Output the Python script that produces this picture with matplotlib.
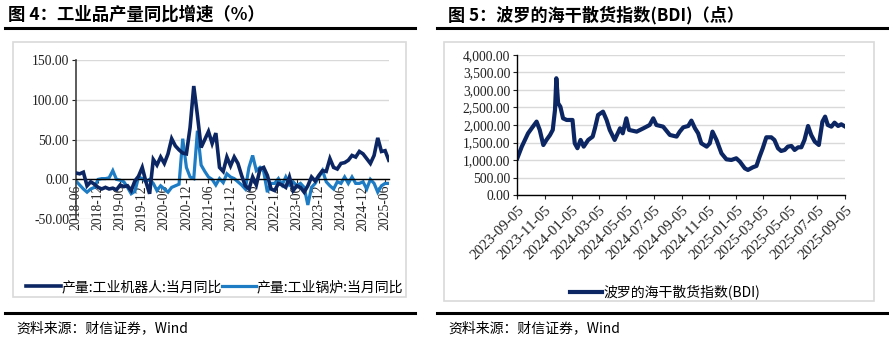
import matplotlib
matplotlib.use("Agg")
import matplotlib.pyplot as plt
from matplotlib.lines import Line2D
from matplotlib.patches import Rectangle
import numpy as np
import datetime as dt

plt.rcParams['font.family'] = ['Noto Sans CJK SC', 'DejaVu Sans']

# ---------------- data: left chart (monthly, 2018-06 .. 2025-07) ----------------
left_start_year, left_start_month = 2018, 6
robot_yoy = [8, 7, 9, -8, -3, -6, -10, -12, -10, -12, -11, -13,
             -7, -9, -8, -14, -2, 4, 15, -3, -18, 25, 18, 28,
             20, 32, 51, 42, 37, 33, 32, 65, 117, 80, 40, 50,
             60, 45, 58, 15, 10, 28, 17, 28, 20, 5, -8, -12,
             3, -7, 13, 15, 5, -12, -14, -5, -7, -10, 3, -14,
             -8, -10, -16, -8, 3, -2, 5, 11, 10, 26, 15, 13,
             20, 21, 24, 30, 28, 35, 32, 26, 20, 30, 52, 35,
             36, 24]
boiler_yoy = [-2, -7, -12, -16, -12, -10, 0, 1, 1, 2, 11, 0,
              -1, -3, -10, -18, -15, 3, 1, -3, 0, -5, -14, -8,
              -12, -16, -10, -8, -6, 51, 15, 3, 1, 61, 18, 10,
              3, 0, -7, 1, -4, 7, 3, 1, -3, -7, -12, 15,
              30, 11, 15, 10, -16, -5, -5, 1, -7, 3, -7, -3,
              -8, -5, -10, -32, -10, -5, 3, 11, -3, -8, -12, -3,
              -5, 3, -5, 3, -5, -5, -3, -12, 0, -5, -16, -8,
              -5, -5]
left_yticks = [-50, 0, 50, 100, 150]
series_names = ['产量:工业机器人:当月同比', '产量:工业锅炉:当月同比']

# ---------------- data: right chart (BDI) ----------------
bdi_dates = ['2023-09-05', '2023-09-15', '2023-09-22', '2023-09-29', '2023-10-07',
             '2023-10-18', '2023-10-25', '2023-11-02', '2023-11-09', '2023-11-17',
             '2023-11-23', '2023-11-28', '2023-12-01', '2023-12-05', '2023-12-10',
             '2023-12-16', '2023-12-24', '2024-01-06', '2024-01-11', '2024-01-17',
             '2024-01-24', '2024-01-31', '2024-02-10', '2024-02-20', '2024-02-25',
             '2024-03-03', '2024-03-14', '2024-03-22', '2024-03-29', '2024-04-09',
             '2024-04-21', '2024-04-27', '2024-05-05', '2024-05-11', '2024-05-28',
             '2024-06-12', '2024-06-26', '2024-07-04', '2024-07-11', '2024-07-26',
             '2024-08-10', '2024-08-25', '2024-09-01', '2024-09-09', '2024-09-20',
             '2024-09-27', '2024-10-05', '2024-10-12', '2024-10-19', '2024-10-31',
             '2024-11-07', '2024-11-13', '2024-11-22', '2024-12-03', '2024-12-14',
             '2024-12-25', '2025-01-05', '2025-01-13', '2025-01-24', '2025-01-31',
             '2025-02-11', '2025-02-19', '2025-02-26', '2025-03-05', '2025-03-13',
             '2025-03-24', '2025-03-31', '2025-04-08', '2025-04-15', '2025-04-23',
             '2025-04-30', '2025-05-08', '2025-05-15', '2025-05-23', '2025-05-30',
             '2025-06-06', '2025-06-14', '2025-06-21', '2025-06-29', '2025-07-08',
             '2025-07-16', '2025-07-22', '2025-07-28', '2025-08-05', '2025-08-12',
             '2025-08-20', '2025-08-27', '2025-09-05']
bdi_values = [1053, 1385, 1574, 1764, 1906,
              2096, 1860, 1430, 1575, 1717,
              1860, 2428, 3330, 2617, 2520,
              2190, 2143, 2143, 1480, 1340,
              1575, 1385, 1575, 1670, 1906,
              2285, 2380, 2143, 1860, 1575,
              1906, 1764, 2190, 1860, 1811,
              1906, 2000, 2190, 2000, 1953,
              1717, 1670, 1811, 1935, 1972,
              2124, 1906, 1764, 1480, 1385,
              1480, 1811, 1574, 1195, 1024,
              1005, 1053, 958, 768, 721,
              797, 835, 1100, 1337, 1650,
              1650, 1574, 1337, 1261, 1290,
              1385, 1403, 1290, 1366, 1366,
              1574, 1972, 1717, 1527, 1432,
              2096, 2238, 2000, 1953, 2067,
              1972, 2020, 1953]
bdi_tick_dates = ['2023-09-05', '2023-11-05', '2024-01-05', '2024-03-05', '2024-05-05',
                  '2024-07-05', '2024-09-05', '2024-11-05', '2025-01-05', '2025-03-05',
                  '2025-05-05', '2025-07-05', '2025-09-05']
right_yticks = [0, 500, 1000, 1500, 2000, 2500, 3000, 3500, 4000]
bdi_name = '波罗的海干散货指数(BDI)'

# ---------------- styles ----------------
W, H = 889, 343
DARK = '#0b2662'
LIGHT = '#1d7cc4'
GRID = '#d9d9d9'
SERIF = ['Liberation Serif', 'DejaVu Serif']

fig = plt.figure(figsize=(W / 100, H / 100), dpi=100)


def px_axes(x0, y0, x1, y1):
    return fig.add_axes([x0 / W, 1 - y1 / H, (x1 - x0) / W, (y1 - y0) / H])


def hline(x0, x1, y, lw=2.2, color='black'):
    fig.add_artist(Line2D([x0 / W, x1 / W], [1 - y / H, 1 - y / H],
                          transform=fig.transFigure, color=color, lw=lw))


def box(x0, y0, x1, y1):
    fig.add_artist(Rectangle((x0 / W, 1 - y1 / H), (x1 - x0) / W, (y1 - y0) / H,
                             transform=fig.transFigure, fill=False,
                             edgecolor=GRID, lw=1.2))


# titles, rules, source
fig.text(8 / W, 1 - 15 / H, '图 4：工业品产量同比增速（%）', fontsize=12.5,
         fontweight='bold', va='center', ha='left')
fig.text(448 / W, 1 - 15 / H, '图 5：波罗的海干散货指数(BDI)（点）', fontsize=12.3,
         fontweight='bold', va='center', ha='left')
hline(5, 415, 27.5)
hline(437, 889, 27.5)
hline(5, 415, 313)
hline(437, 889, 313)
fig.text(16 / W, 1 - 328 / H, '资料来源：财信证券，Wind', fontsize=10,
         style='italic', va='center', ha='left')
fig.text(448 / W, 1 - 328 / H, '资料来源：财信证券，Wind', fontsize=10,
         style='italic', va='center', ha='left')
box(13, 42, 406, 297)
box(444, 42, 874, 301)

# ---------------- left chart ----------------
ax1 = px_axes(76, 59.7, 388.8, 219.3)
n = len(robot_yoy)
xi = np.arange(n)
ax1.spines['bottom'].set_position(('data', 0))
ax1.plot(xi, robot_yoy, color=DARK, lw=2.6, solid_joinstyle='miter', label=series_names[0], zorder=3)
ax1.plot(xi, boiler_yoy, color=LIGHT, lw=2.3, solid_joinstyle='miter', label=series_names[1], zorder=2)
ax1.set_xlim(0, n - 1)
ax1.set_ylim(-50, 150)
ax1.set_yticks(left_yticks)
ax1.set_yticklabels([f'{v:.2f}' for v in left_yticks], fontfamily=SERIF, fontsize=9.8)
tick_idx = list(range(0, n, 6))
labels = []
for i in tick_idx:
    m = left_start_month - 1 + i
    labels.append(f'{left_start_year + m // 12}-{m % 12 + 1:02d}')
ax1.set_xticks(tick_idx)
ax1.set_xticklabels(labels, rotation=90, fontfamily=SERIF, fontsize=9.8, va='top', ha='center')
ax1.spines['bottom'].set_color('black')
ax1.spines['bottom'].set_linewidth(1.0)
for s in ['top', 'right']:
    ax1.spines[s].set_visible(False)
ax1.spines['left'].set_color('#404040')
ax1.spines['left'].set_linewidth(1.2)
ax1.tick_params(axis='y', length=3, width=0.8, pad=2, colors='#222222')
ax1.tick_params(axis='x', length=3, width=0.8, pad=1, colors='#222222')
ax1.grid(axis='y', color=GRID, lw=1.0)
ax1.set_axisbelow(True)
ax1.patch.set_alpha(0)

fig.legend(handles=ax1.get_lines(), labels=series_names, loc='center',
           bbox_to_anchor=(215 / W, 1 - 287 / H), ncol=2, frameon=False,
           fontsize=10, handlelength=2.45, handletextpad=0.05,
           columnspacing=0.05, borderpad=0)

# ---------------- right chart ----------------
ax2 = px_axes(517.3, 54.7, 845.3, 195.3)
d = [dt.datetime.strptime(s, '%Y-%m-%d') for s in bdi_dates]
ax2.plot(d, bdi_values, color=DARK, lw=3.0, solid_joinstyle='round', label=bdi_name)
td = [dt.datetime.strptime(s, '%Y-%m-%d') for s in bdi_tick_dates]
ax2.set_xlim(td[0], td[-1])
ax2.set_xticks(td)
ax2.set_xticklabels(bdi_tick_dates, rotation=45, ha='right', va='top',
                    rotation_mode='anchor', fontfamily=SERIF, fontsize=10.8)
ax2.set_ylim(0, 4000)
ax2.set_yticks(right_yticks)
ax2.set_yticklabels([f'{v:,.2f}' for v in right_yticks], fontfamily=SERIF, fontsize=9.8)
for s in ['top', 'right']:
    ax2.spines[s].set_visible(False)
ax2.spines['left'].set_color('black')
ax2.spines['bottom'].set_color('black')
ax2.spines['left'].set_linewidth(1.0)
ax2.spines['bottom'].set_linewidth(1.0)
ax2.tick_params(axis='both', length=3, width=0.8, colors='#222222')
ax2.tick_params(axis='y', pad=2)
ax2.tick_params(axis='x', pad=3)
ax2.grid(axis='y', color=GRID, lw=1.0)
ax2.set_axisbelow(True)
ax2.patch.set_alpha(0)

fig.legend(handles=ax2.get_lines(), labels=[bdi_name], loc='center',
           bbox_to_anchor=(665 / W, 1 - 292 / H), frameon=False,
           fontsize=10, handlelength=2.3, handletextpad=0.05, borderpad=0)

fig.savefig('out.png', dpi=100)
